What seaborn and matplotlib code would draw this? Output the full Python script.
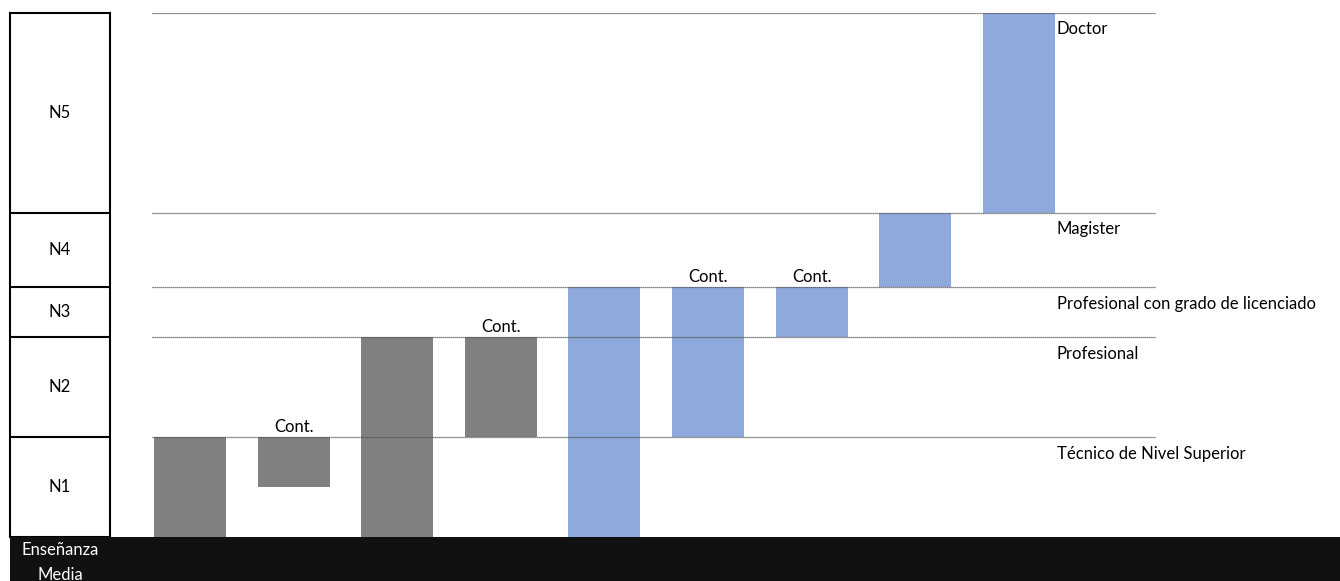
import matplotlib
matplotlib.use("Agg")
import matplotlib.pyplot as plt
from matplotlib.patches import Rectangle
import pandas as pd
import seaborn as sns

# niveles del marco (límites inferiores/superiores)
LEVELS = ["N1", "N2", "N3", "N4", "N5"]
LEVEL_EDGES = [0, 2, 4, 5, 6.5, 10.5]
DEGREES = ["Técnico de Nivel Superior", "Profesional",
           "Profesional con grado de licenciado", "Magister", "Doctor"]

# tramos formativos (barras flotantes)
STEPS = ["1", "2", "3", "4", "5", "6", "7", "8", "9"]
GRAY_STEPS = ["1", "2", "3", "4"]
GRAY_BOTTOM = [0, 1, 0, 2]
GRAY_TOP = [2, 2, 4, 4]
BLUE_STEPS = ["5", "6", "7", "8", "9"]
BLUE_BOTTOM = [0, 2, 4, 5, 6.5]
BLUE_TOP = [5, 5, 5, 6.5, 10.5]
CONT_STEPS = ["2", "4", "6", "7"]

GRAY = "#808080"
BLUE = "#8EA9DB"
FONT = ["Lato", "DejaVu Sans"]
FS = 12

W, H = 1340, 581
PX0, STEP_PX = 190, 103.6
plt.rcParams["font.family"] = FONT

fig = plt.figure(figsize=(W / 100, H / 100), dpi=100)
bottom_frac = 44 / H
height_frac = 524 / H

ax = fig.add_axes([0, bottom_frac, 1, height_frac])

gray_df = pd.DataFrame({"paso": GRAY_STEPS,
                        "alto": [t - b for t, b in zip(GRAY_TOP, GRAY_BOTTOM)]})
blue_df = pd.DataFrame({"paso": BLUE_STEPS,
                        "alto": [t - b for t, b in zip(BLUE_TOP, BLUE_BOTTOM)]})

bar_w = 72 / STEP_PX
sns.barplot(data=gray_df, x="paso", y="alto", order=STEPS, color=GRAY,
            saturation=1, width=bar_w, bottom=GRAY_BOTTOM, linewidth=0,
            errorbar=None, ax=ax)
sns.barplot(data=blue_df, x="paso", y="alto", order=STEPS, color=BLUE,
            saturation=1, width=bar_w, bottom=BLUE_BOTTOM, linewidth=0,
            errorbar=None, ax=ax)

ax.set_xlim(-PX0 / STEP_PX, (W - PX0) / STEP_PX)
ax.set_ylim(0, LEVEL_EDGES[-1])
ax.axis("off")

# líneas de nivel y rótulos de grado
ytr = ax.get_yaxis_transform()
for y in LEVEL_EDGES[1:]:
    ax.hlines(y, 152 / W, 1155 / W, transform=ytr, color="#555555",
              linewidth=0.9, linestyles=(0, (1, 0.6)), zorder=5)
for y, name in zip(LEVEL_EDGES[1:], DEGREES):
    ax.annotate(name, xy=(1057 / W, y), xycoords=ytr, xytext=(0, -6),
                textcoords="offset points", ha="left", va="top", fontsize=FS)

# "Cont." sobre los tramos de continuidad
tops = dict(zip(GRAY_STEPS + BLUE_STEPS, GRAY_TOP + BLUE_TOP))
for step in CONT_STEPS:
    ax.annotate("Cont.", xy=(STEPS.index(step), tops[step]), xytext=(0, 1.5),
                textcoords="offset points", ha="center", va="bottom", fontsize=FS)

# columna de niveles a la izquierda
lax = fig.add_axes([10 / W, bottom_frac, 100 / W, height_frac])
lax.set_xlim(0, 1)
lax.set_ylim(0, LEVEL_EDGES[-1])
lax.set_xticks([])
lax.set_yticks([])
for s in lax.spines.values():
    s.set_color("black")
    s.set_linewidth(1.5)
for y in LEVEL_EDGES[1:-1]:
    lax.axhline(y, color="black", linewidth=1.5)
for lvl, lo, hi in zip(LEVELS, LEVEL_EDGES[:-1], LEVEL_EDGES[1:]):
    lax.text(0.5, (lo + hi) / 2, lvl, ha="center", va="center", fontsize=FS)

# franja de Enseñanza Media
fig.patches.append(Rectangle((10 / W, 0), 1 - 10 / W, bottom_frac,
                             transform=fig.transFigure, facecolor="#111111",
                             edgecolor="none", zorder=0))
fig.text(60 / W, 1 - 550 / H, "Enseñanza", color="white", ha="center",
         va="center", fontsize=FS)
fig.text(60 / W, 1 - 575 / H, "Media", color="white", ha="center",
         va="center", fontsize=FS)

fig.savefig("out.png", dpi=100)
